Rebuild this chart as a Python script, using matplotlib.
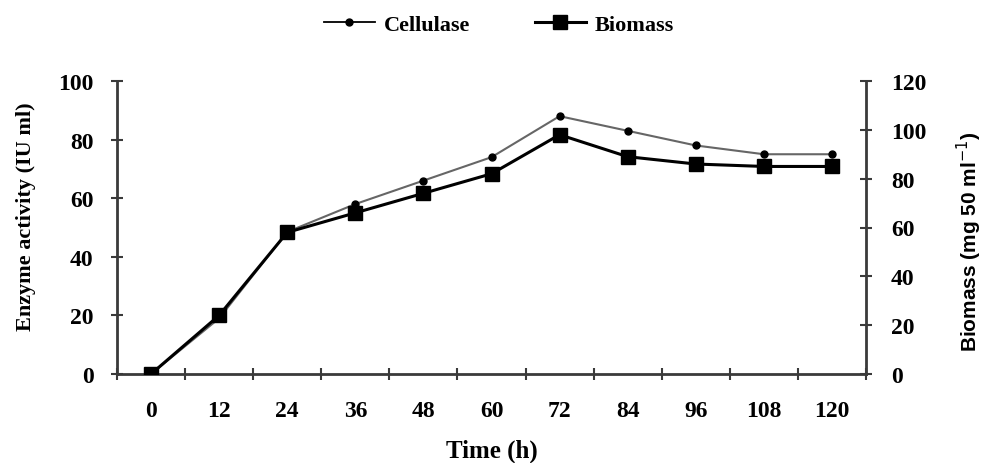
import matplotlib
matplotlib.use("Agg")
import matplotlib.pyplot as plt
from matplotlib.lines import Line2D

time_labels = ["0", "12", "24", "36", "48", "60", "72", "84", "96", "108", "120"]
cellulase = [0, 19, 48.5, 58, 66, 74, 88, 83, 78, 75, 75]
biomass = [0, 24, 58, 66, 74, 82, 98, 89, 86, 85, 85]
left_ticks = [0, 20, 40, 60, 80, 100]
right_ticks = [0, 20, 40, 60, 80, 100, 120]

serif = "Liberation Serif"
sans = "Liberation Sans"
spine_c = "#3a3a3a"
tick_fs = 17

fig = plt.figure(figsize=(9.88, 4.64), dpi=100)
ax = fig.add_axes([117/988, 1-375/464, (866-117)/988, (375-82)/464])
ax2 = ax.twinx()

x = list(range(len(time_labels)))
ax.plot(x, cellulase, color="#666666", lw=1.5, marker="o", ms=5,
        mfc="black", mec="black", zorder=3)
ax2.plot(x, biomass, color="black", lw=2.2, marker="s", ms=10,
         mfc="black", mec="black", zorder=4)

ax.set_xlim(-0.5, len(time_labels) - 0.5)
ax.set_ylim(0, 100)
ax2.set_ylim(0, 120)
ax.set_yticks(left_ticks)
ax.set_yticklabels([str(v) for v in left_ticks], fontfamily=serif, fontweight="bold", fontsize=tick_fs)
ax2.set_yticks(right_ticks)
ax2.set_yticklabels([str(v) for v in right_ticks], fontfamily=serif, fontweight="bold", fontsize=tick_fs)

ax.set_xticks([i - 0.5 for i in range(len(time_labels) + 1)])
ax.set_xticklabels([])
ax.set_xticks(x, minor=True)
ax.set_xticklabels(time_labels, minor=True, fontfamily=serif, fontweight="bold", fontsize=tick_fs)
ax.tick_params(axis="x", which="minor", length=0, pad=19)
ax.tick_params(axis="x", which="major", direction="inout", length=8, width=1.5, color=spine_c)
ax.tick_params(axis="y", direction="inout", length=8, width=1.5, color=spine_c, pad=13)
ax2.tick_params(axis="y", direction="inout", length=8, width=1.5, color=spine_c, pad=14)

for a in (ax, ax2):
    a.spines["top"].set_visible(False)
    for s in ("left", "right", "bottom"):
        a.spines[s].set_color(spine_c)
        a.spines[s].set_linewidth(2)
ax.spines["right"].set_visible(False)
ax2.spines["left"].set_visible(False)
ax2.spines["bottom"].set_visible(False)

ax.set_xlabel("Time (h)", fontfamily=serif, fontweight="bold", fontsize=18)
ax.xaxis.set_label_coords(0.5, -0.222)
ax.set_ylabel("Enzyme activity (IU ml)", fontfamily=serif, fontweight="bold", fontsize=16)
ax.yaxis.set_label_coords(-0.108, 0.539)
ax2.set_ylabel("Biomass (mg 50 ml$^{-1}$)", fontfamily=sans, fontweight="bold", fontsize=15)
ax2.yaxis.set_label_coords(1.119, 0.454)

handles = [
    Line2D([], [], color="black", lw=1.3, marker="o", ms=5, mfc="black"),
    Line2D([], [], color="black", lw=2.2, marker="s", ms=10, mfc="black"),
]
fig.legend(handles, ["Cellulase", "Biomass"], loc="upper center", bbox_to_anchor=(0.505, 1.01),
           ncol=2, frameon=False, handlelength=2.3, handletextpad=0.4, columnspacing=2.9,
           prop={"family": serif, "weight": "bold", "size": 16})

fig.savefig("out.png", dpi=100)
